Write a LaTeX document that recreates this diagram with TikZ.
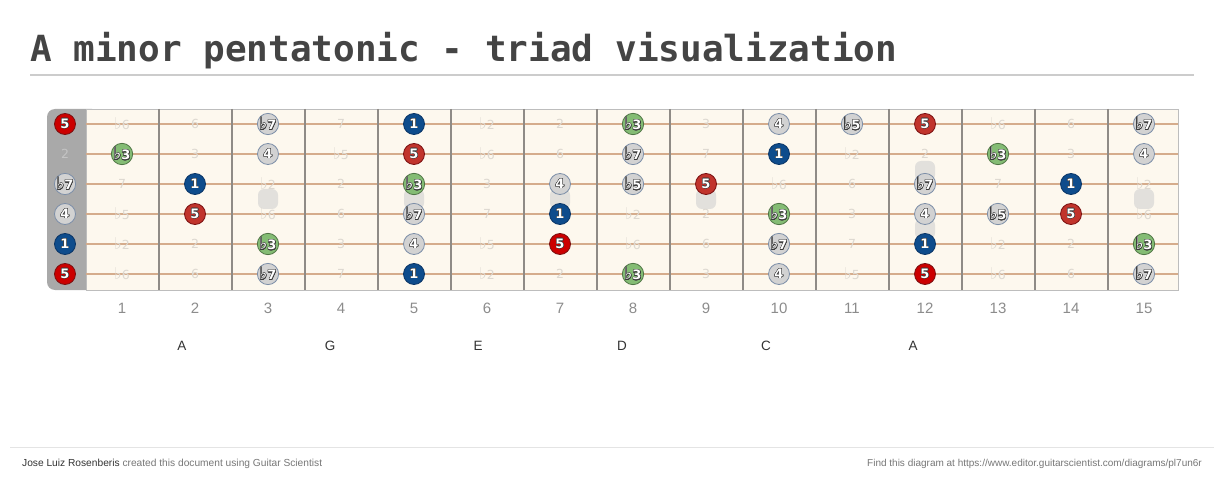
\documentclass[tikz,border=0pt]{standalone}
\usepackage{fontspec}
\setmainfont{Liberation Sans}
\newfontfamily\titlefont{DejaVu Sans Mono}
\newfontfamily\notefont{DejaVu Sans}
\usepackage{contour}
\contourlength{0.45pt}
\definecolor{titleGrey}{HTML}{444444}
\definecolor{ruleGrey}{HTML}{CCCCCC}
\definecolor{footLine}{HTML}{E4E4E4}
\definecolor{footDark}{HTML}{333333}
\definecolor{footGrey}{HTML}{777777}
\definecolor{nutGrey}{HTML}{A9A9A9}
\definecolor{boardBg}{HTML}{FDF8EE}
\definecolor{boardEdge}{HTML}{BDBDBD}
\definecolor{fretGrey}{HTML}{8F8B86}
\definecolor{stringTan}{HTML}{D5AC8C}
\definecolor{inlayGrey}{HTML}{E2E0DC}
\definecolor{fadeText}{HTML}{DDD8D0}
\definecolor{fadeNut}{HTML}{C4C4C4}
\definecolor{numGrey}{HTML}{8C8C8C}
\definecolor{rootBlue}{HTML}{0E4C8C}
\definecolor{rootEdge}{HTML}{0A3566}
\definecolor{fifthRed}{HTML}{CC0000}
\definecolor{fifthRust}{HTML}{C1342C}
\definecolor{fifthEdge}{HTML}{7A1010}
\definecolor{thirdGreen}{HTML}{84BC74}
\definecolor{thirdEdge}{HTML}{4F7445}
\definecolor{otherGrey}{HTML}{D2D2D2}
\definecolor{otherEdge}{HTML}{7D8FA8}
\definecolor{noteInk}{HTML}{3A3A3A}

\newcommand{\fl}{{\addfontfeature{Scale=1.3}♭}}
\newcommand{\inked}[1]{\contour{noteInk}{#1}}
\newcommand{\plain}[1]{#1}

\begin{document}
\begin{tikzpicture}[x=1pt, y=-1pt,
    note/.style={circle, minimum size=21pt, inner sep=0pt, line width=0.8pt, text=white,
      font=\notefont\bfseries\fontsize{13}{13}\selectfont, /utils/exec=\let\lab\inked},
    deg1/.style={note, fill=rootBlue, draw=rootEdge},
    deg5a/.style={note, fill=fifthRed, draw=fifthEdge},
    deg5b/.style={note, fill=fifthRust, draw=fifthEdge},
    deg3/.style={note, fill=thirdGreen, draw=thirdEdge},
    degx/.style={note, fill=otherGrey, draw=otherEdge},
    off/.style={inner sep=0pt, text=fadeText, font=\notefont\fontsize{12.5}{12.5}\selectfont,
      /utils/exec=\let\lab\plain},
    offnut/.style={off, text=fadeNut},
    stringline/.style={stringTan, line width=2pt},
    fretwire/.style={fretGrey, line width=2.6pt},
    inlay/.style={fill=inlayGrey, rounded corners=6pt},
    fretnum/.style={text=numGrey, font=\fontsize{15}{15}\selectfont},
    chordname/.style={text=footDark, font=\fontsize{13.5}{13.5}\selectfont}]
  \fill[white] (0,0) rectangle (1224,489);
  \useasboundingbox (0,0) rectangle (1224,489);

  % Title
  \node[anchor=base west, text=titleGrey, inner sep=0pt,
    font=\titlefont\bfseries\fontsize{36}{40}\selectfont] (title) at (30,62) {A minor pentatonic - triad visualization};
  \draw[ruleGrey, line width=2pt] (30,75) -- (1194,75);

  % Neck
  \fill[nutGrey, rounded corners=8pt] (47,109) rectangle (100,290);
  \fill[boardBg] (86,109) rectangle (1178,290);
  \draw[boardEdge, line width=0.8pt] (86,109) rectangle (1178,290);

  % Inlays
  \foreach \x in {268,414,560,706,1144}
  \fill[inlay] (\x-10,189) rectangle (\x+10,209);
  \fill[inlay] (915,161) rectangle (935,181);
  \fill[inlay] (915,219) rectangle (935,239);

  % Strings and frets
  \foreach \y in {124,154,...,274}
  \draw[stringline] (86,\y) -- (1178,\y);
  \foreach \k in {1,...,14}
  \draw[fretwire] (86+73*\k,109) -- (86+73*\k,290);

  % String 1 (e)
  \foreach \f/\t/\k in {0/5/deg5a, 1/\fl6/off, 2/6/off, 3/\fl7/degx, 4/7/off, 5/1/deg1, 6/\fl2/off, 7/2/off,
    8/\fl3/deg3, 9/3/off, 10/4/degx, 11/\fl5/degx, 12/5/deg5b, 13/\fl6/off, 14/6/off, 15/\fl7/degx}{
    \pgfmathsetmacro\xx{\f==0 ? 65 : 49+73*\f}
    \node[style=\k] (s1-\f) at (\xx,124) {\lab{\t}};
  }
  % String 2 (B)
  \foreach \f/\t/\k in {0/2/offnut, 1/\fl3/deg3, 2/3/off, 3/4/degx, 4/\fl5/off, 5/5/deg5b, 6/\fl6/off, 7/6/off,
    8/\fl7/degx, 9/7/off, 10/1/deg1, 11/\fl2/off, 12/2/off, 13/\fl3/deg3, 14/3/off, 15/4/degx}{
    \pgfmathsetmacro\xx{\f==0 ? 65 : 49+73*\f}
    \node[style=\k] (s2-\f) at (\xx,154) {\lab{\t}};
  }
  % String 3 (G)
  \foreach \f/\t/\k in {0/\fl7/degx, 1/7/off, 2/1/deg1, 3/\fl2/off, 4/2/off, 5/\fl3/deg3, 6/3/off, 7/4/degx,
    8/\fl5/degx, 9/5/deg5b, 10/\fl6/off, 11/6/off, 12/\fl7/degx, 13/7/off, 14/1/deg1, 15/\fl2/off}{
    \pgfmathsetmacro\xx{\f==0 ? 65 : 49+73*\f}
    \node[style=\k] (s3-\f) at (\xx,184) {\lab{\t}};
  }
  % String 4 (D)
  \foreach \f/\t/\k in {0/4/degx, 1/\fl5/off, 2/5/deg5b, 3/\fl6/off, 4/6/off, 5/\fl7/degx, 6/7/off, 7/1/deg1,
    8/\fl2/off, 9/2/off, 10/\fl3/deg3, 11/3/off, 12/4/degx, 13/\fl5/degx, 14/5/deg5b, 15/\fl6/off}{
    \pgfmathsetmacro\xx{\f==0 ? 65 : 49+73*\f}
    \node[style=\k] (s4-\f) at (\xx,214) {\lab{\t}};
  }
  % String 5 (A)
  \foreach \f/\t/\k in {0/1/deg1, 1/\fl2/off, 2/2/off, 3/\fl3/deg3, 4/3/off, 5/4/degx, 6/\fl5/off, 7/5/deg5a,
    8/\fl6/off, 9/6/off, 10/\fl7/degx, 11/7/off, 12/1/deg1, 13/\fl2/off, 14/2/off, 15/\fl3/deg3}{
    \pgfmathsetmacro\xx{\f==0 ? 65 : 49+73*\f}
    \node[style=\k] (s5-\f) at (\xx,244) {\lab{\t}};
  }
  % String 6 (E)
  \foreach \f/\t/\k in {0/5/deg5a, 1/\fl6/off, 2/6/off, 3/\fl7/degx, 4/7/off, 5/1/deg1, 6/\fl2/off, 7/2/off,
    8/\fl3/deg3, 9/3/off, 10/4/degx, 11/\fl5/off, 12/5/deg5a, 13/\fl6/off, 14/6/off, 15/\fl7/degx}{
    \pgfmathsetmacro\xx{\f==0 ? 65 : 49+73*\f}
    \node[style=\k] (s6-\f) at (\xx,274) {\lab{\t}};
  }

  % Fret numbers
  \foreach \f in {1,...,15}
  \node[fretnum] (num\f) at (49+73*\f,308) {\f};

  % Chord names
  \node[chordname] (chA) at (182,346) {A};
  \node[chordname] (chG) at (330,346) {G};
  \node[chordname] (chE) at (478,346) {E};
  \node[chordname] (chD) at (622,346) {D};
  \node[chordname] (chC) at (766,346) {C};
  \node[chordname] (chAb) at (913,346) {A};

  % Footer
  \draw[footLine, line width=1pt] (10,447) -- (1214,447);
  \node[anchor=base west, inner sep=0pt, text=footGrey, font=\fontsize{10.2}{10}\selectfont] (author) at (22,466)
    {\textcolor{footDark}{Jose Luiz Rosenberis} created this document using Guitar Scientist};
  \node[anchor=base east, inner sep=0pt, text=footGrey, font=\fontsize{10}{10}\selectfont] (link) at (1202,466)
    {Find this diagram at https://www.editor.guitarscientist.com/diagrams/pl7un6r};
\end{tikzpicture}
\end{document}
